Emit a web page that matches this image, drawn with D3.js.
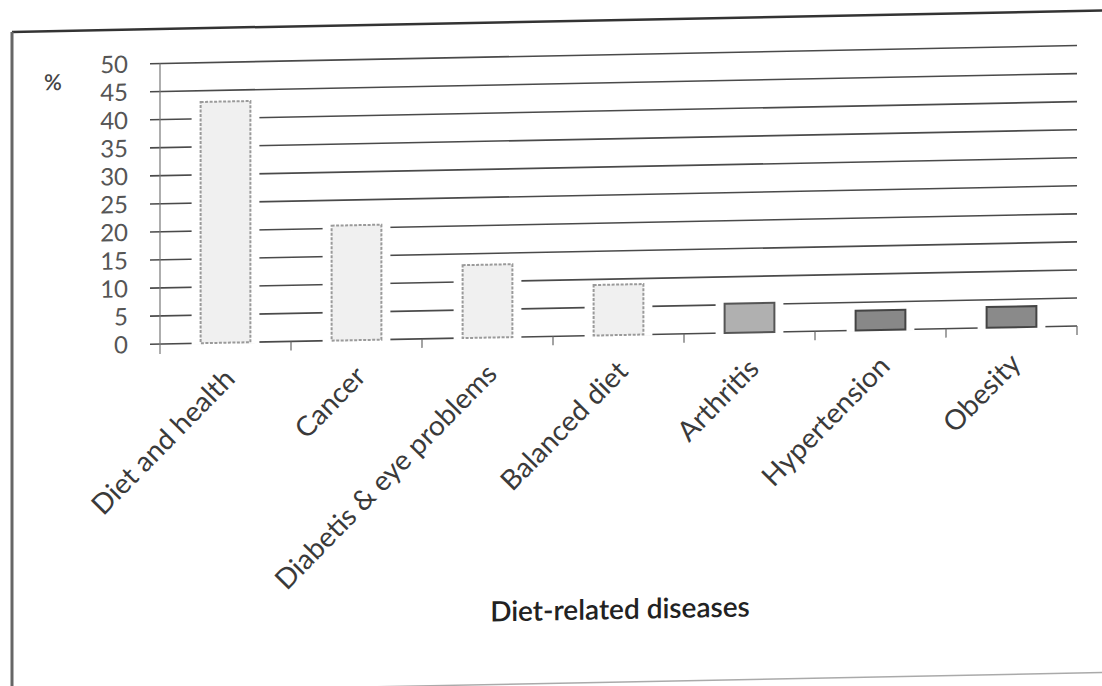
<!DOCTYPE html>
<html><head><meta charset="utf-8">
<script src="https://cdn.jsdelivr.net/npm/d3@7"></script>
<style>body{margin:0;background:#fff;} text{font-family:Lato,"Open Sans",sans-serif;}</style>
</head><body>
<svg id="c" width="1102" height="686"></svg>
<script>
const categories = ["Diet and health","Cancer","Diabetis & eye problems","Balanced diet","Arthritis","Hypertension","Obesity"];
const values = [43,20.5,13,9,5.2,3.5,3.7];
const fills = ["#f0f0f0","#f0f0f0","#f0f0f0","#f0f0f0","#b0b0b0","#888888","#8a8a8a"];
const strokes = ["#9a9a9a","#9a9a9a","#9a9a9a","#9a9a9a","#555555","#444444","#444444"];
const yTicks = [0,5,10,15,20,25,30,35,40,45,50];
const yLabel = "%";
const xTitle = "Diet-related diseases";

const svg = d3.select("#c");
const g = svg.append("g").attr("transform","translate(160,0) skewY(-1.12) translate(-160,0)");

const m = {left:160, right:1077, top:63.5, bottom:344};
const x = d3.scaleBand().domain(categories).range([m.left,m.right]).paddingInner(0.62).paddingOuter(0.31);
const y = d3.scaleLinear().domain([0,50]).range([m.bottom,m.top]);

// frame
g.append("line").attr("x1",12).attr("x2",1110).attr("y1",29).attr("y2",29).attr("stroke","#333").attr("stroke-width",2.5);
g.append("line").attr("x1",12).attr("x2",12).attr("y1",29).attr("y2",700).attr("stroke","#666").attr("stroke-width",3);
g.append("line").attr("x1",12).attr("x2",1110).attr("y1",691).attr("y2",691).attr("stroke","#aaa").attr("stroke-width",1.5);

// gridlines
g.append("g").selectAll("line").data(yTicks).join("line")
  .attr("x1",m.left-10).attr("x2",m.right).attr("y1",d=>y(d)).attr("y2",d=>y(d))
  .attr("stroke","#4a4a4a").attr("stroke-width",1.6);

// y axis line
g.append("line").attr("x1",m.left).attr("x2",m.left).attr("y1",y(50)).attr("y2",y(0)+10).attr("stroke","#777").attr("stroke-width",1.2);

// category ticks
const bounds = categories.map((c,i)=>m.left + (i+1)*x.step());
g.append("g").selectAll("line").data(bounds).join("line")
  .attr("x1",d=>d).attr("x2",d=>d).attr("y1",y(0)).attr("y2",y(0)+9)
  .attr("stroke","#666").attr("stroke-width",1.2);

// white gaps behind bars
const gap = 9;
g.append("g").selectAll("rect").data(categories).join("rect")
  .attr("x",d=>x(d)-gap).attr("width",x.bandwidth()+2*gap)
  .attr("y",(d,i)=>y(values[i])).attr("height",(d,i)=>y(0)-y(values[i])+1.5)
  .attr("fill","#fff");

// bars
g.append("g").selectAll("rect").data(categories).join("rect")
  .attr("x",d=>x(d)).attr("width",x.bandwidth())
  .attr("y",(d,i)=>y(values[i])).attr("height",(d,i)=>y(0)-y(values[i]))
  .attr("fill",(d,i)=>fills[i]).attr("stroke",(d,i)=>strokes[i]).attr("stroke-width",2)
  .attr("stroke-dasharray",(d,i)=>i<4?"3,1.5":null);

// y tick labels
g.append("g").selectAll("text").data(yTicks).join("text")
  .attr("x",128).attr("y",d=>y(d)).attr("dy","0.36em").attr("text-anchor","end")
  .attr("font-size",24).attr("fill","#555").text(d=>d);

g.append("text").attr("x",53).attr("y",88).attr("text-anchor","middle").attr("font-size",22).attr("fill","#444").attr("font-weight",600).text(yLabel);

// x labels
g.append("g").selectAll("text").data(categories).join("text")
  .attr("transform",d=>`translate(${x(d)+x.bandwidth()/2+11},${y(0)+38}) rotate(-45)`)
  .attr("text-anchor","end").attr("font-size",28).attr("fill","#3a3a3a").text(d=>d);

g.append("text").attr("x",620).attr("y",628).attr("text-anchor","middle")
  .attr("font-size",28).attr("fill","#222").attr("font-weight",600).text(xTitle);
</script>
</body></html>
